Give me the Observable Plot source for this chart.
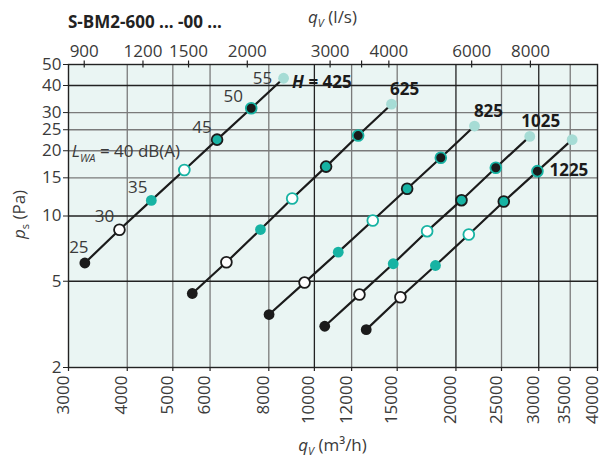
<!DOCTYPE html>
<html><head><meta charset="utf-8">
<script src="https://cdn.jsdelivr.net/npm/d3@7"></script>
<script src="https://cdn.jsdelivr.net/npm/@observablehq/plot@0.6"></script>
<style>
html,body{margin:0;padding:0;background:#fff;}
#chart svg{display:block;}
</style></head><body><div id="chart"></div>
<script>
// ---- data ----
const lwaLevels = [25, 30, 35, 40, 45, 50, 55];
const seriesNames = ["425", "625", "825", "1025", "1225"];
const h425Q = [3250, 3850, 4500, 5290, 6210, 7340, 8600];
const h425P = [6.07, 8.64, 11.8, 16.3, 22.5, 31.4, 43.2];
const h625Q = [5500, 6500, 7680, 8970, 10590, 12390, 14590];
const h625P = [4.39, 6.12, 8.66, 12.05, 16.9, 23.5, 32.8];
const h825Q = [8010, 9530, 11240, 13310, 15750, 18570, 21900];
const h825P = [3.51, 4.93, 6.81, 9.53, 13.35, 18.56, 26.0];
const h1025Q = [10520, 12470, 14710, 17370, 20550, 24310, 28710];
const h1025P = [3.10, 4.34, 6.02, 8.51, 11.83, 16.7, 23.3];
const h1225Q = [12890, 15240, 18090, 21300, 25280, 29810, 35330];
const h1225P = [2.99, 4.22, 5.91, 8.22, 11.67, 16.1, 22.5];

const bottomTicks = [3000, 4000, 5000, 6000, 8000, 10000, 12000, 15000, 20000, 25000, 30000, 35000, 40000];
const topTicksLps = [900, 1200, 1500, 2000, 3000, 3500, 4000, 6000, 8000];
const topTicksLabeled = [900, 1200, 1500, 2000, 3000, 4000, 6000, 8000];
const m3hPerLps = 3.6;
const yTicks = [2, 5, 10, 15, 20, 25, 30, 40, 50];
const gridXMajor = [10000, 20000, 30000];
const gridXMinor = [4000, 5000, 6000, 8000, 12000, 15000, 25000, 35000];
const gridYMajor = [5, 10, 40];
const gridYMinor = [15, 20, 25, 30];

const titleText = "S-BM2-600 ... -00 ...";

// ---- build table ----
const qs = [h425Q, h625Q, h825Q, h1025Q, h1225Q];
const ps = [h425P, h625P, h825P, h1025P, h1225P];
const points = [];
seriesNames.forEach((h, s) => lwaLevels.forEach((l, i) => points.push({h, lwa: l, q: qs[s][i], p: ps[s][i]})));
const at = (h, l) => points.filter(d => d.h === h && d.lwa === l);

const ink = "#1b1b1b", teal = "#17b3a3", pale = "#a6dcd5", txt = "#3a3a3a";
const dotStyle = {
  25: {fill: ink, stroke: "none"},
  30: {fill: "#fff", stroke: ink},
  35: {fill: teal, stroke: "none"},
  40: {fill: "#fff", stroke: teal},
  45: {fill: teal, stroke: ink},
  50: {fill: ink, stroke: teal},
  55: {fill: pale, stroke: "none"}
};
const dotMarks = lwaLevels.map(l => Plot.dot(points.filter(d => d.lwa === l), {
  x: "q", y: "p", r: 5.4, fill: dotStyle[l].fill, stroke: dotStyle[l].stroke, strokeWidth: 1.8
}));

const lvlLabelOffsets = {25: [-6, -15], 30: [-15, -13], 35: [-13.5, -13], 45: [-15, -12], 50: [-18, -12], 55: [-21, 0]};
const lvlLabelMarks = Object.keys(lvlLabelOffsets).map(k => Plot.text(at("425", +k), {
  x: "q", y: "p", text: d => String(d.lwa), dx: lvlLabelOffsets[k][0], dy: lvlLabelOffsets[k][1], fill: txt
}));

const seriesLabel = (h, l, dx, dy, anchor) => Plot.text(at(h, l), {
  x: "q", y: "p", text: "h", dx, dy, textAnchor: anchor, fontWeight: "bold", fill: ink, fontSize: 17
});

const topQ = topTicksLps.map(d => d * m3hPerLps);
const topLabelQ = topTicksLabeled.map(d => d * m3hPerLps);

const W = 603, H = 459, mT = 64, mB = 92;
const innerH = H - mT - mB;

const chart = Plot.plot({
  width: W, height: H,
  marginLeft: 68, marginRight: 6, marginTop: mT, marginBottom: mB,
  style: {fontFamily: "'Open Sans', sans-serif", fontSize: "17px", color: txt, background: "transparent"},
  x: {type: "log", domain: [3000, 40000], axis: null},
  y: {type: "log", domain: [2, 50], axis: null},
  marks: [
    Plot.frame({fill: "#eaf5f3"}),
    Plot.ruleX(gridXMinor, {stroke: "#7a7a7a", strokeWidth: 1.3}),
    Plot.ruleY(gridYMinor, {stroke: "#7a7a7a", strokeWidth: 1.3}),
    Plot.ruleX(gridXMajor, {stroke: "#222", strokeWidth: 1.3}),
    Plot.ruleY(gridYMajor, {stroke: "#222", strokeWidth: 1.3}),
    Plot.line(points, {x: "q", y: "p", z: "h", stroke: ink, strokeWidth: 2.2}),
    ...dotMarks,
    Plot.frame({stroke: "#222", strokeWidth: 1.4}),
    Plot.axisY(yTicks, {anchor: "left", tickSize: 5, tickPadding: 2, tickFormat: d => String(d), label: null, stroke: "#222"}),
    // bottom axis: ticks + rotated labels
    Plot.ruleX(bottomTicks, {stroke: "#222", strokeWidth: 1.2, insetTop: innerH, insetBottom: -4}),
    Plot.text(bottomTicks, {x: d => d, text: d => String(d), frameAnchor: "bottom", rotate: -90, textAnchor: "end", dy: 8, fill: txt}),
    // top axis (l/s): ticks crossing the frame + labels
    Plot.ruleX(topQ, {stroke: "#222", strokeWidth: 1.2, insetTop: -3.5, insetBottom: innerH - 3.5}),
    Plot.text(topLabelQ, {x: d => d, text: d => String(Math.round(d / m3hPerLps)), frameAnchor: "top", lineAnchor: "bottom", dy: -8, fill: txt}),
    ...lvlLabelMarks,
    seriesLabel("625", 55, 13, -15, "middle"),
    seriesLabel("825", 55, 14, -15, "middle"),
    seriesLabel("1025", 55, 11, -15, "middle"),
    seriesLabel("1225", 50, 12, -1, "start")
  ]
});

document.getElementById("chart").appendChild(chart);

// ---- rich text labels ----
const svg = d3.select(chart);
const xs = chart.scale("x"), ys = chart.scale("y");
const [fx0, fx1] = xs.range, [fy0, fy1] = ys.range;
const fxMid = (fx0 + fx1) / 2, fyMid = (fy0 + fy1) / 2;

// title
svg.append("text").attr("x", fx0).attr("y", 28).attr("text-anchor", "start").attr("font-weight", "bold").attr("font-size", 17)
  .attr("fill", "#222").text(titleText);

function qLabel(x, y, unit) {
  const t = svg.append("text").attr("x", x).attr("y", y).attr("text-anchor", "middle").attr("fill", txt).attr("font-size", 17);
  t.append("tspan").attr("font-style", "italic").text("q");
  t.append("tspan").attr("font-style", "italic").attr("font-size", 11).attr("dy", 4).text("V");
  t.append("tspan").attr("dy", -4).text(" (" + unit + ")");
}
qLabel(fxMid, 23, "l/s");
qLabel(fxMid, 451, "m³/h");

const yl = svg.append("text").attr("transform", `translate(25,${fyMid - 1}) rotate(-90)`).attr("text-anchor", "middle")
  .attr("fill", txt).attr("font-size", 17);
yl.append("tspan").attr("font-style", "italic").text("p");
yl.append("tspan").attr("font-size", 11).attr("dy", 4).text("s");
yl.append("tspan").attr("dy", -4).text(" (Pa)");

// L_WA label on the 40 dB(A) point of first series
const p40 = at("425", 40)[0];
const lw = svg.append("text").attr("x", xs.apply(p40.q) - 112).attr("y", ys.apply(p40.p) - 13)
  .attr("text-anchor", "start").attr("fill", txt).attr("font-size", 17);
lw.append("tspan").attr("font-style", "italic").text("L");
lw.append("tspan").attr("font-style", "italic").attr("font-size", 11).attr("dy", 5).text("WA");
lw.append("tspan").attr("dy", -5).text(" = 40 dB(A)");

// H = 425 label
const p55 = at("425", 55)[0];
const hl = svg.append("text").attr("x", xs.apply(p55.q) + 9).attr("y", ys.apply(p55.p) + 10)
  .attr("text-anchor", "start").attr("fill", ink).attr("font-size", 17).attr("font-weight", "bold");
hl.append("tspan").attr("font-style", "italic").text("H");
hl.append("tspan").text(" = 425");
</script></body></html>
